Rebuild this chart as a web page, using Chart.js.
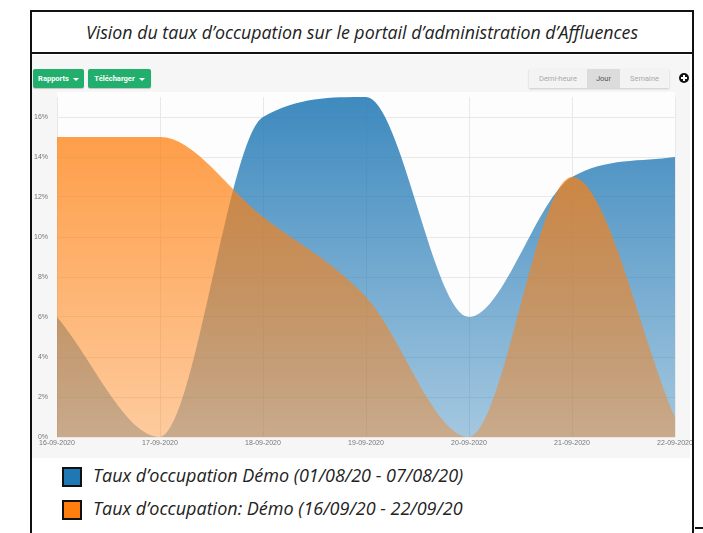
<!DOCTYPE html>
<html lang="fr">
<head>
<meta charset="utf-8">
<title>Taux d'occupation</title>
<script src="https://cdn.jsdelivr.net/npm/chart.js@4.4.1/dist/chart.umd.min.js"></script>
<style>
  html, body { margin: 0; padding: 0; background: #fff; }
  body { width: 703px; height: 533px; position: relative; overflow: hidden; font-family: "Open Sans", sans-serif; }

  /* outer frame */
  #frame { position: absolute; left: 30px; top: 10px; width: 660px; height: 540px; border: 2px solid #111; border-bottom: none; }
  #title { position: absolute; left: 0; top: 0; width: 660px; height: 40px; border-bottom: 2px solid #111;
           font-style: italic; font-size: 17.8px; color: #222; text-align: center; line-height: 41px; }
  #stub { position: absolute; left: 695px; top: 527px; width: 10px; height: 2px; background: #111; }

  /* dashboard panel */
  #panel { position: absolute; left: 32px; top: 55px; width: 658px; height: 403px; background: #f6f6f6; }
  .btn { position: absolute; top: 14px; height: 19px; background: #22ae6c; color: #fff; border-radius: 2px;
         font: bold 7.5px Roboto, sans-serif; line-height: 19px; text-align: center; box-shadow: 0 1px 1px rgba(0,0,0,.2); }
  .caret { display: inline-block; margin-left: 4px; border-left: 3px solid transparent; border-right: 3px solid transparent;
           border-top: 3px solid #fff; vertical-align: middle; }
  #range { position: absolute; left: 497px; top: 14px; height: 19px; display: flex; background: #f3f3f3;
           box-shadow: 0 1px 2px rgba(0,0,0,.18); font: 7.5px Roboto, sans-serif; line-height: 19px; color: #aaa; }
  #range span { display: block; text-align: center; }
  #range .on { background: #dcdcdc; color: #555; }
  #plus { position: absolute; left: 647px; top: 18px; width: 10px; height: 10px; border-radius: 50%; background: #111; }
  #plus:before, #plus:after { content: ''; position: absolute; background: #fff; }
  #plus:before { left: 2px; top: 4px; width: 6px; height: 2px; }
  #plus:after { left: 4px; top: 2px; width: 2px; height: 6px; }

  #chartBox { position: absolute; left: 32px; top: 90px; width: 660px; height: 368px; }

  /* legend */
  #legend { position: absolute; left: 62px; top: 466px; }
  .item { position: relative; height: 33px; font-style: italic; font-size: 18px; color: #222; }
  .item i { position: absolute; left: 0; top: 1px; width: 16px; height: 16px; border: 2px solid #111; }
  .item span { position: absolute; left: 31px; top: -1px; line-height: 20px; white-space: nowrap; }
</style>
</head>
<body>
<div id="frame">
  <div id="title">Vision du taux d’occupation sur le portail d’administration d’Affluences</div>
</div>
<div id="stub"></div>

<div id="panel">
  <div class="btn" style="left:1px;width:51px;">Rapports<span class="caret"></span></div>
  <div class="btn" style="left:56px;width:63px;">Télécharger<span class="caret"></span></div>
  <div id="range">
    <span style="width:58px;">Demi-heure</span>
    <span class="on" style="width:33px;">Jour</span>
    <span style="width:49px;">Semaine</span>
  </div>
  <div id="plus"></div>
</div>

<div id="chartBox"><canvas id="chart"></canvas></div>
<div id="legend"></div>

<script>
'use strict';

// DATA
const days = ['16-09-2020', '17-09-2020', '18-09-2020', '19-09-2020', '20-09-2020', '21-09-2020', '22-09-2020'];
const demoAugust = [6, 0, 16, 17, 6, 13, 14];
const demoSeptember = [15, 15, 11, 7, 0, 13, 1];
const seriesNames = ['Taux d’occupation Démo (01/08/20 - 07/08/20)', 'Taux d’occupation: Démo (16/09/20 - 22/09/20'];
const seriesColors = [[31, 119, 180], [255, 127, 14]];
const yMax = 17;
const yStep = 2;

// vertical fade, strong at the top of the plot and paler at the bottom
function areaFill(rgb, topAlpha, bottomAlpha) {
  return function (context) {
    const area = context.chart.chartArea;
    if (!area) return 'rgba(' + rgb.join(',') + ',' + topAlpha + ')';
    const g = context.chart.ctx.createLinearGradient(0, area.top, 0, area.bottom);
    g.addColorStop(0, 'rgba(' + rgb.join(',') + ',' + topAlpha + ')');
    g.addColorStop(1, 'rgba(' + rgb.join(',') + ',' + bottomAlpha + ')');
    return g;
  };
}

// white plotting area on the grey panel
const plotBackground = {
  id: 'plotBackground',
  beforeDraw(chart) {
    const a = chart.chartArea;
    chart.ctx.save();
    chart.ctx.fillStyle = '#fdfdfd';
    chart.ctx.fillRect(a.left, a.top - 5, a.right - a.left, a.bottom - a.top + 5);
    chart.ctx.restore();
  }
};

const ctx = document.getElementById('chart');

new Chart(ctx, {
  type: 'line',
  data: {
    labels: days,
    datasets: [{
      label: seriesNames[0],
      data: demoAugust,
      fill: 'origin',
      backgroundColor: areaFill(seriesColors[0], 0.86, 0.4),
      borderColor: 'rgba(0,0,0,0)',
      borderWidth: 1,
      pointRadius: 0,
      cubicInterpolationMode: 'monotone',
      order: 1
    }, {
      label: seriesNames[1],
      data: demoSeptember,
      fill: 'origin',
      backgroundColor: areaFill(seriesColors[1], 0.8, 0.4),
      borderColor: 'rgba(0,0,0,0)',
      borderWidth: 1,
      pointRadius: 0,
      cubicInterpolationMode: 'monotone',
      order: 0
    }]
  },
  options: {
    responsive: true,
    maintainAspectRatio: false,
    animation: false,
    layout: { padding: { top: 7, right: 17, left: 0, bottom: 0 } },
    plugins: {
      legend: { display: false },
      tooltip: { enabled: false }
    },
    scales: {
      x: {
        grid: { color: '#e8e8e8', drawTicks: false },
        border: { display: false },
        afterFit(scale) {
          scale.height = 21;
          scale.paddingLeft = 0;
          scale.paddingRight = 0;
        },
        ticks: {
          color: '#777',
          font: { family: 'Liberation Sans', size: 7 },
          padding: 2,
          maxRotation: 0,
          autoSkip: false
        }
      },
      y: {
        min: 0,
        max: yMax,
        grid: { color: '#e8e8e8', drawTicks: false },
        border: { display: false },
        afterFit(scale) {
          scale.width = 25;
          scale.paddingTop = 0;
          scale.paddingBottom = 0;
        },
        ticks: {
          stepSize: yStep,
          includeBounds: false,
          color: '#777',
          font: { family: 'Liberation Sans', size: 7 },
          padding: 9,
          callback: (v) => v + '%'
        }
      }
    }
  },
  plugins: [plotBackground]
});

// legend rows
let legend = document.getElementById('legend');
for (let i = 0; i < seriesNames.length; i++) {
  let row = document.createElement('div');
  row.className = 'item';
  let box = document.createElement('i');
  box.style.background = 'rgb(' + seriesColors[i].join(',') + ')';
  let text = document.createElement('span');
  text.textContent = seriesNames[i];
  row.appendChild(box);
  row.appendChild(text);
  legend.appendChild(row);
}
</script>
</body>
</html>
